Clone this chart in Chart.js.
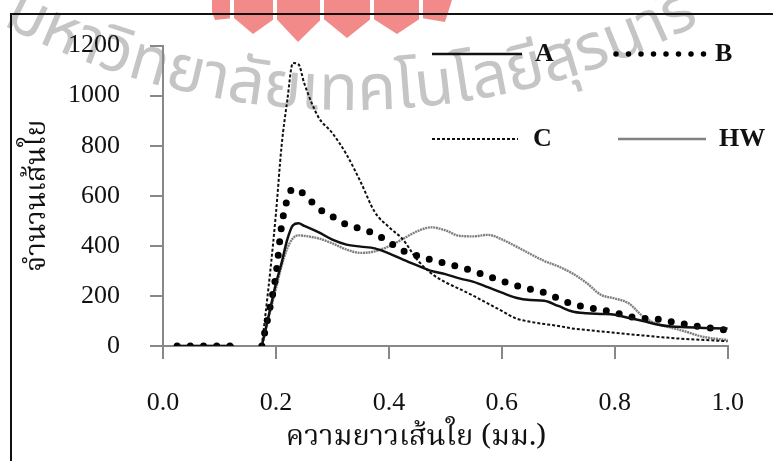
<!DOCTYPE html>
<html>
<head>
<meta charset="utf-8">
<script src="https://cdn.jsdelivr.net/npm/chart.js@4.4.1/dist/chart.umd.min.js"></script>
<style>
  html, body { margin: 0; padding: 0; background: #fff; }
  #wrap { width: 773px; height: 461px; }
</style>
</head>
<body>
<div id="wrap"><canvas id="myChart" width="773" height="461"></canvas></div>
<script>
// fibre length (mm) - null row breaks the lines between the zero run and the main curve
const lengths = [0.025, 0.05, 0.075, 0.1, 0.125, 0.15,
  0.175, 0.19, 0.2, 0.21, 0.22, 0.23, 0.24, 0.25, 0.275, 0.3, 0.325, 0.35, 0.375, 0.4,
  0.425, 0.45, 0.475, 0.5, 0.525, 0.55, 0.575, 0.6, 0.625, 0.65, 0.675, 0.7, 0.725,
  0.75, 0.775, 0.8, 0.825, 0.85, 0.875, 0.9, 0.925, 0.95, 0.975, 1.0];

const countA = [0, 0, 0, 0, 0, null,
  0, 150, 250, 332, 425, 482, 490, 480, 455, 425, 405, 397, 390, 370,
  345, 322, 300, 287, 270, 256, 235, 213, 193, 184, 181, 160, 138,
  131, 128, 125, 112, 100, 86, 78, 75, 73, 71, 70];

const countB = [0, 0, 0, 0, 0, null,
  0, 160, 285, 480, 585, 628, 620, 607, 550, 517, 485, 468, 448, 415,
  380, 361, 344, 330, 315, 299, 279, 260, 242, 227, 213, 190, 167,
  155, 145, 133, 118, 111, 107, 97, 87, 77, 70, 63];

const countC = [0, 0, 0, 0, 0, null,
  0, 300, 530, 800, 980, 1130, 1125, 1050, 915, 850, 765, 655, 535, 475,
  425, 345, 290, 255, 228, 200, 170, 140, 110, 97, 88, 80, 70,
  64, 58, 53, 47, 42, 37, 32, 28, 25, 22, 19];

const countHW = [0, 0, 0, 0, 0, null,
  0, 140, 230, 320, 390, 430, 442, 440, 430, 410, 385, 372, 378, 398,
  428, 458, 474, 462, 440, 438, 444, 426, 398, 368, 340, 318, 290,
  252, 205, 190, 170, 118, 88, 73, 58, 40, 30, 24];

const seriesNames = ['A', 'B', 'C', 'HW'];
const xTicks = [0, 0.2, 0.4, 0.6, 0.8, 1.0];
const yTicks = [0, 200, 400, 600, 800, 1000, 1200];

const xTitle = 'ความยาวเส้นใย (มม.)';
const yTitle = 'จำนวนเส้นใย';
const watermark = 'มหาวิทยาลัยเทคโนโลยีสุรนารี';

const serif = '"Liberation Serif", "Times New Roman", serif';
const thaiFont = '"Noto Serif Thai", "Noto Sans Thai", "Noto Sans", serif';
const markFont = '"Noto Sans Thai", "Noto Sans", sans-serif';

function pts(values) {
  return lengths.map((x, i) => ({ x: x, y: values[i] }));
}

// white page, crest top, frame lines and the faint seal text behind the chart
const backdrop = {
  id: 'backdrop',
  beforeDraw(chart) {
    const ctx = chart.ctx;
    ctx.save();
    ctx.fillStyle = '#fff';
    ctx.fillRect(0, 0, chart.width, chart.height);

    // crest (red, cut by the top edge)
    ctx.fillStyle = 'rgba(235,60,60,0.6)';
    const tips = [[215, 20], [253, 34], [298, 42], [347, 38], [397, 34], [445, 22]];
    ctx.beginPath();
    ctx.moveTo(212, 0);
    ctx.lineTo(212, 12);
    tips.forEach((t, i) => {
      ctx.lineTo(t[0], t[1]);
      if (i < tips.length - 1) ctx.lineTo((t[0] + tips[i + 1][0]) / 2, 18);
    });
    ctx.lineTo(452, 0);
    ctx.closePath();
    ctx.fill();
    ctx.strokeStyle = '#fff';
    ctx.lineWidth = 4;
    [232, 275, 322, 372, 421].forEach(x => {
      ctx.beginPath();
      ctx.moveTo(x, 0);
      ctx.lineTo(x, 40);
      ctx.stroke();
    });

    // arc text watermark
    ctx.font = '64px ' + markFont;
    ctx.fillStyle = 'rgba(110,110,110,0.4)';
    ctx.textBaseline = 'alphabetic';
    const cx = 350, cy = -640, r = 750;
    const clusters = watermark.match(/.[\u0E31\u0E34-\u0E3A\u0E47-\u0E4E]*/g);
    let s = -362;
    clusters.forEach(c => {
      const w = ctx.measureText(c).width;
      const a = Math.PI / 2 - (s + w / 2) / r;
      ctx.save();
      ctx.translate(cx + r * Math.cos(a), cy + r * Math.sin(a));
      ctx.rotate(a - Math.PI / 2);
      ctx.textAlign = 'center';
      ctx.fillText(c, 0, 0);
      ctx.restore();
      s += w;
    });

    // frame
    ctx.strokeStyle = '#111';
    ctx.lineWidth = 2;
    ctx.beginPath();
    ctx.moveTo(11, chart.height);
    ctx.lineTo(11, 14);
    ctx.lineTo(chart.width, 14);
    ctx.stroke();
    ctx.restore();
  }
};

// legend in two rows drawn from the dataset styles, plus the x title (set left of centre)
const legendBox = {
  id: 'legendBox',
  afterDraw(chart) {
    const ctx = chart.ctx;
    const spots = [
      { x0: 432, x1: 522, y: 54, tx: 535 },
      { x0: 616, x1: 703, y: 54, tx: 715 },
      { x0: 432, x1: 518, y: 139, tx: 533 },
      { x0: 618, x1: 706, y: 139, tx: 719 }
    ];
    chart.data.datasets.forEach((ds, i) => {
      const p = spots[i];
      ctx.save();
      ctx.strokeStyle = ds.borderColor;
      ctx.lineWidth = i === 1 ? 5.5 : ds.borderWidth;
      ctx.lineCap = ds.borderCapStyle || 'butt';
      ctx.setLineDash(i === 1 ? [0, 12.5] : (i === 3 ? [] : (ds.borderDash || [])));
      ctx.beginPath();
      ctx.moveTo(p.x0, p.y);
      ctx.lineTo(p.x1 + (i === 1 ? 1 : 0), p.y);
      ctx.stroke();
      ctx.setLineDash([]);
      ctx.fillStyle = '#111';
      ctx.font = 'bold 26px ' + serif;
      ctx.textBaseline = 'middle';
      ctx.textAlign = 'left';
      ctx.fillText(ds.label, p.tx, p.y);
      ctx.restore();
    });

    ctx.save();
    ctx.fillStyle = '#111';
    ctx.font = '29px ' + thaiFont;
    ctx.textAlign = 'center';
    ctx.textBaseline = 'middle';
    ctx.fillText(xTitle, 416, 440);
    ctx.restore();
  }
};

const ctx = document.getElementById('myChart');
new Chart(ctx, {
  type: 'line',
  data: {
    datasets: [
      {
        label: seriesNames[0],
        data: pts(countA),
        borderColor: '#111',
        borderWidth: 2.5
      },
      {
        label: seriesNames[1],
        data: pts(countB),
        borderColor: '#000',
        borderWidth: 7,
        borderDash: [0, 13.2],
        borderCapStyle: 'round'
      },
      {
        label: seriesNames[2],
        data: pts(countC),
        borderColor: '#111',
        borderWidth: 2,
        borderDash: [3, 2]
      },
      {
        label: seriesNames[3],
        data: pts(countHW),
        borderColor: '#808080',
        borderWidth: 2.4,
        borderDash: [2, 0.7]
      }
    ]
  },
  options: {
    responsive: false,
    animation: false,
    devicePixelRatio: 1,
    spanGaps: false,
    layout: { padding: { left: 0, top: 36, right: 39, bottom: 0 } },
    elements: {
      point: { radius: 0 },
      line: { cubicInterpolationMode: 'monotone', fill: false }
    },
    plugins: {
      legend: { display: false },
      tooltip: { enabled: false }
    },
    scales: {
      x: {
        type: 'linear',
        min: 0,
        max: 1,
        afterBuildTicks: s => { s.ticks = xTicks.map(v => ({ value: v })); },
        afterFit: s => { s.height = 115; },
        ticks: {
          callback: v => v.toFixed(1),
          color: '#111',
          font: { family: serif, size: 26 },
          padding: 29,
          maxRotation: 0
        },
        grid: { drawOnChartArea: false, drawTicks: true, tickLength: 13, color: '#888', lineWidth: 2 },
        border: { display: true, color: '#888', width: 2 },
        title: { display: false }
      },
      y: {
        min: 0,
        max: 1200,
        afterBuildTicks: s => { s.ticks = yTicks.map(v => ({ value: v })); },
        afterFit: s => { s.width = 163; },
        ticks: {
          callback: v => String(v),
          color: '#111',
          font: { family: serif, size: 26 },
          padding: 30
        },
        grid: { drawOnChartArea: false, drawTicks: true, tickLength: 13, color: '#888', lineWidth: 2 },
        border: { display: true, color: '#888', width: 2 },
        title: {
          display: true,
          text: yTitle,
          color: '#111',
          font: { family: thaiFont, size: 28 },
          padding: { top: 24, bottom: 0 }
        }
      }
    }
  },
  plugins: [backdrop, legendBox]
});
</script>
</body>
</html>
